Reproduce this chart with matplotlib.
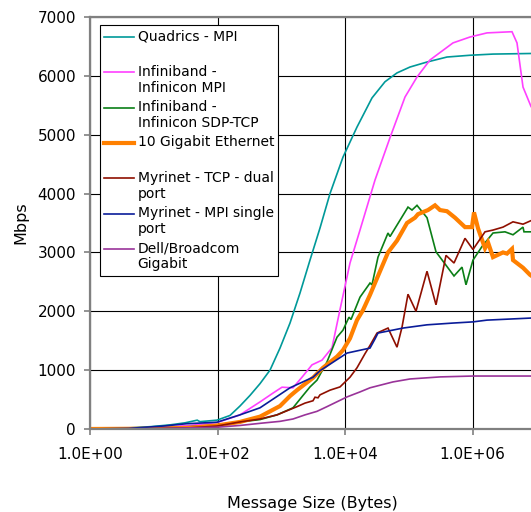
"""
Throughput vs message size for several interconnects (log x axis, Excel look).
"""
import matplotlib
matplotlib.use("Agg")
import matplotlib.pyplot as plt
import numpy as np
from matplotlib.legend_handler import HandlerLine2D
from matplotlib.lines import Line2D
from matplotlib.ticker import FuncFormatter, NullLocator

# --- data (message size in bytes, throughput in Mbps) ---
quadrics_size = [1, 3, 9, 18, 31, 48, 53, 98, 157, 225, 323, 464, 666, 956, 1372,
                 1968, 2825, 4054, 5818, 9303, 15420, 26520, 42410, 65410, 104600,
                 193400, 398100, 913600, 2.097e6, 8.275e6, 1.145e7]
quadrics_mbps = [0, 10, 40, 70, 105, 150, 125, 150, 230, 390, 570, 770, 1000, 1375, 1800,
                 2310, 2870, 3415, 4000, 4620, 5130, 5625, 5900, 6050, 6150,
                 6235, 6320, 6350, 6370, 6380, 6380]

ib_mpi_size = [1, 9, 37, 98, 225, 464, 742, 1027, 1529, 2116, 3037, 4357, 6253, 8350,
               11980, 17190, 29560, 50810, 87330, 134700, 215400, 494600, 913600,
               1.689e6, 4.165e6, 4.989e6, 6.197e6, 8.275e6, 1.145e7]
ib_mpi_mbps = [0, 20, 60, 110, 240, 460, 610, 710, 700, 880, 1090, 1170, 1380, 2030,
               2820, 3380, 4230, 4950, 5640, 5980, 6270, 6560, 6660,
               6730, 6750, 6560, 5810, 5480, 5250]

ib_sdp_size = [1, 9, 37, 98, 225, 464, 858, 1529, 2194, 2825, 3637, 5219, 7492, 9303,
               11555, 12420, 17190, 24680, 26520, 32930, 47270, 50810, 97310, 112500,
               134700, 193400, 267600, 512800, 684500, 790700, 1.018e6, 1.409e6,
               2.097e6, 3.234e6, 4.318e6, 6.197e6, 6.424e6, 8.275e6, 1.145e7]
ib_sdp_mbps = [0, 10, 40, 70, 120, 160, 240, 360, 570, 715, 830, 1140, 1560, 1680,
               1900, 1860, 2240, 2480, 2450, 2920, 3330, 3270, 3770, 3720,
               3800, 3590, 3010, 2600, 2750, 2450, 2870, 3100,
               3330, 3350, 3300, 3430, 3350, 3350, 3400]

tengig_size = [1, 9, 37, 98, 225, 323, 464, 666, 956, 1372, 1767, 3148, 4517, 7492,
               9303, 11980, 15420, 19160, 24680, 32930, 47270, 65410, 93870, 125300,
               139700, 200400, 258100, 309300, 398100, 531700, 762800, 982200,
               1.056e6, 1.220e6, 1.571e6, 1.751e6, 2.097e6, 3.009e6, 3.477e6,
               4.165e6, 4.318e6, 6.197e6, 7.980e6, 1.145e7]
tengig_mbps = [0, 5, 20, 60, 120, 165, 210, 300, 390, 560, 660, 870, 1040, 1230,
               1340, 1540, 1850, 2020, 2280, 2600, 3000, 3200, 3500, 3590,
               3650, 3720, 3800, 3720, 3700, 3590, 3430, 3430,
               3680, 3410, 3070, 3170, 2920, 3000, 2980,
               3060, 2870, 2740, 2620, 2500]

myri_tcp_size = [1, 9, 37, 98, 225, 464, 858, 1767, 2358, 3148, 3383, 3772, 4054, 5818,
                 8350, 11980, 15420, 20600, 24680, 31770, 47270, 65410, 78390, 97310,
                 129900, 193400, 267600, 384000, 512800, 762800, 1.018e6, 1.571e6,
                 2.097e6, 3.009e6, 4.318e6, 6.197e6, 8.275e6, 1.145e7]
myri_tcp_mbps = [0, 5, 20, 50, 120, 170, 240, 380, 440, 480, 540, 530, 580, 660,
                 715, 880, 1040, 1280, 1420, 1630, 1715, 1390, 1730, 2290,
                 2000, 2680, 2110, 2950, 2820, 3240, 3050, 3350,
                 3380, 3430, 3520, 3480, 3540, 3560]

myri_mpi_size = [1, 4, 14, 33, 98, 225, 464, 1372, 3148, 4054, 10750, 24680, 29560,
                 32930, 81270, 193400, 494600, 1.018e6, 1.689e6, 8.275e6, 1.145e7]
myri_mpi_mbps = [0, 10, 50, 90, 115, 240, 360, 700, 880, 990, 1290, 1375, 1530,
                 1630, 1715, 1770, 1800, 1820, 1850, 1885, 1890]

dell_size = [1, 9, 98, 225, 500, 956, 1529, 2358, 3637, 5219, 10750, 17190, 24680,
             56600, 104600, 309300, 1.018e6, 8.275e6, 1.145e7]
dell_mbps = [0, 5, 30, 60, 100, 130, 170, 240, 300, 380, 545, 630, 700,
             800, 850, 885, 900, 900, 900]

labels = [
    "Quadrics - MPI\n",
    "Infiniband -\nInfinicon MPI",
    "Infiniband -\nInfinicon SDP-TCP",
    "10 Gigabit Ethernet\n",
    "Myrinet - TCP - dual\nport",
    "Myrinet - MPI single\nport",
    "Dell/Broadcom\nGigabit",
]
colors = ["#009999", "#ff40ff", "#0b7f16", "#ff8000", "#8f0f00", "#0a1c99", "#993399"]
widths = [1.2, 1.2, 1.2, 3.0, 1.2, 1.2, 1.2]

series = [
    (quadrics_size, quadrics_mbps),
    (ib_mpi_size, ib_mpi_mbps),
    (ib_sdp_size, ib_sdp_mbps),
    (tengig_size, tengig_mbps),
    (myri_tcp_size, myri_tcp_mbps),
    (myri_mpi_size, myri_mpi_mbps),
    (dell_size, dell_mbps),
]

LEGEND_FS = 10


class FirstLineHandler(HandlerLine2D):
    """Put the legend sample next to the first line of a two-line label."""

    def __init__(self, shift, **kw):
        super().__init__(**kw)
        self.shift = shift

    def create_artists(self, legend, orig_handle, xdescent, ydescent, width,
                       height, fontsize, trans):
        artists = super().create_artists(legend, orig_handle, xdescent, ydescent,
                                         width, height, fontsize, trans)
        for a in artists:
            a.set_ydata(np.asarray(a.get_ydata()) + self.shift)
        return artists


fig = plt.figure(figsize=(5.31, 5.12), dpi=100)
ax = fig.add_axes([90 / 531, 83 / 512, 510 / 531, 412 / 512])

for (sz, mb), lab, col, lw in zip(series, labels, colors, widths):
    ax.plot(sz, mb, color=col, linewidth=lw, label=lab, solid_joinstyle="miter")

ax.set_xscale("log")
ax.set_xlim(1, 1e8)
ax.set_ylim(0, 7000)
ax.set_xticks([1, 1e2, 1e4, 1e6])
ax.xaxis.set_minor_locator(NullLocator())
ax.xaxis.set_major_formatter(FuncFormatter(lambda v, p: f"{v:.1E}"))
ax.set_yticks(np.arange(0, 7001, 1000))

ax.grid(True, color="black", linewidth=0.8)
ax.set_axisbelow(True)
for sp in ax.spines.values():
    sp.set_color("#808080")
    sp.set_linewidth(1.6)
ax.tick_params(axis="both", direction="out", length=4, width=1.2, color="#808080",
               labelsize=11, labelcolor="black")
ax.tick_params(axis="x", pad=9)
ax.tick_params(axis="y", pad=6)

ax.set_xlabel("Message Size (Bytes)", fontsize=11.5)
ax.set_ylabel("Mbps", fontsize=11.5)
ax.xaxis.set_label_coords(0.437, -0.163)
ax.yaxis.set_label_coords(-0.12, 0.5)

leg = ax.legend(
    loc="upper left", bbox_to_anchor=(10 / 510, 1 - 8 / 412), borderaxespad=0,
    fontsize=LEGEND_FS, frameon=True, fancybox=False, framealpha=1,
    edgecolor="black", borderpad=0.3, labelspacing=0.37, handlelength=2.16,
    handletextpad=0.25,
    handler_map={Line2D: FirstLineHandler(0.56 * LEGEND_FS)},
)
leg.get_frame().set_linewidth(0.8)

fig.savefig("out.png", dpi=100)
